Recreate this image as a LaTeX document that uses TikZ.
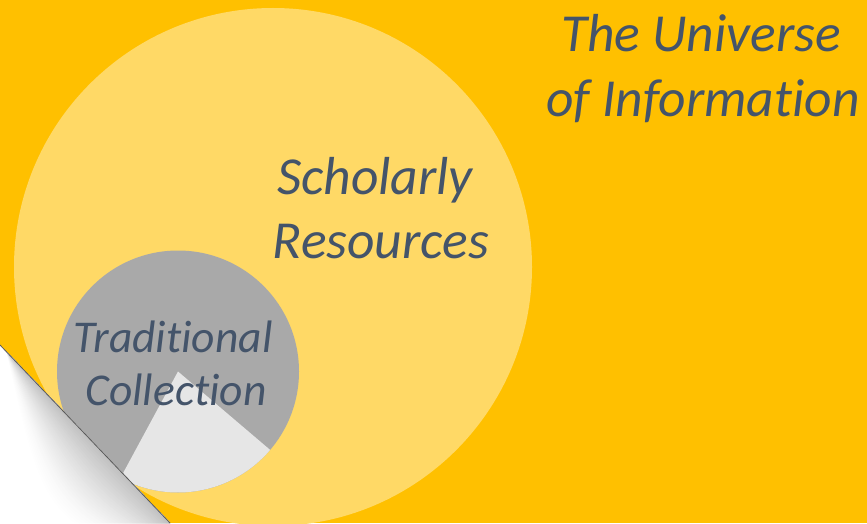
\documentclass[tikz,border=0pt]{standalone}
\usepackage{fontspec}
\setmainfont{Carlito}[Ligatures=CommonOff]
\usetikzlibrary{calc}
\definecolor{bgorange}{HTML}{FFC000}
\definecolor{paleyellow}{HTML}{FFD966}
\definecolor{midgray}{HTML}{A9A9A9}
\definecolor{lightgray2}{HTML}{E6E6E6}
\definecolor{txt}{HTML}{44546A}
\tikzset{
  lbl/.style={anchor=base, inner sep=0pt, text=txt, font=\itshape\fontsize{#1}{#1}\selectfont},
}
\begin{document}
\begin{tikzpicture}[x=1pt,y=1pt]
\fill[bgorange] (0,0) rectangle (867,523);
\useasboundingbox (0,0) rectangle (867,523);
% circles
\node[circle, fill=paleyellow, minimum size=518pt, inner sep=0pt] (scholarly) at (273,256) {};
\node[circle, fill=midgray, minimum size=242pt, inner sep=0pt] (traditional) at (178,151.5) {};
\fill[lightgray2] (traditional.center) -- ++(-118.4:121) arc[start angle=-118.4, end angle=-40.4, radius=121] -- cycle;
% labels
\node[lbl=53.5] (t1) at (701,471) {The Universe};
\node[lbl=53.5] (t2) at (703,406) {of Information};
\node[lbl=53.5] (s1) at (375,328) {Scholarly};
\node[lbl=53.5] (s2) at (381,265) {Resources};
\node[lbl=45.5] (c1) at (173,171) {Traditional};
\node[lbl=45.5] (c2) at (176,118) {Collection};
% page curl
\coordinate (curlA) at (0,178);
\coordinate (curlB) at (170,0);
\coordinate (shS) at ($(curlA)+10*(0.6908,-0.7233)$);
\coordinate (shE) at ($(curlA)+320*(0.6908,-0.7233)$);
\coordinate (shM) at ($(curlA)+165*(0.6908,-0.7233)$);
\fill[white] (curlA) -- (curlB) -- (0,0) -- cycle;
\begin{scope}
  \clip (curlA) -- (curlB) -- (0,0) -- cycle;
  \foreach \k in {0,...,29}{
    \pgfmathsetmacro{\dd}{48*(1-\k/30)}
    \pgfmathsetmacro{\pp}{25*(\k/30)^1.4}
    \fill[black!\pp!white]
      ($(shS)+3*(0.7233,0.6908)$) -- ($(shE)+3*(0.7233,0.6908)$) -- (shE)
      .. controls ($(shM)+2*\dd*(-0.7233,-0.6908)$) .. (shS) -- cycle;
  }
\end{scope}
\draw[gray!70!black, line width=0.8pt] (curlA) -- (curlB);
\end{tikzpicture}
\end{document}
